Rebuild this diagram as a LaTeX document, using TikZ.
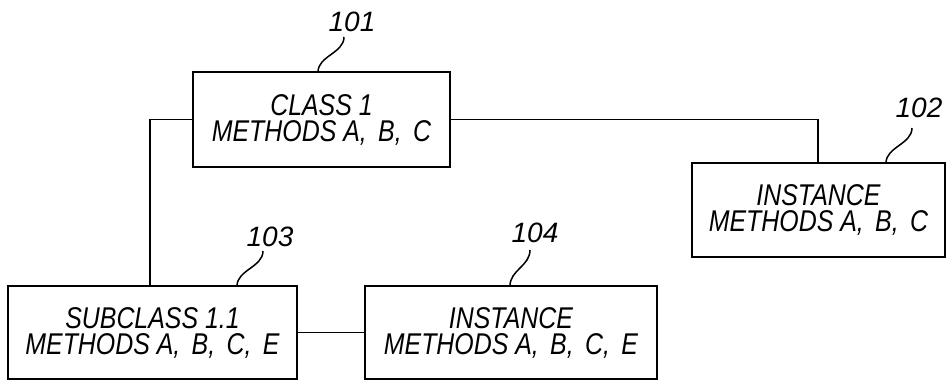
\documentclass[tikz,border=0pt]{standalone}
\usepackage{fontspec}
\newfontfamily\pfont{Liberation Sans}[FakeStretch=0.83]
\newfontfamily\nfont{Liberation Sans}
\begin{document}
\begin{tikzpicture}[x=1pt,y=-1pt,
  box/.style={draw,line width=2pt,inner sep=0pt,font=\pfont\itshape\fontsize{30}{26}\selectfont,align=center},
  lbl/.style={font=\nfont\itshape\fontsize{28}{28}\selectfont,inner sep=0pt},
  wire/.style={line width=1.4pt},
  lead/.style={line width=1.5pt}]
\useasboundingbox (0,0) rectangle (946,384);
\newcommand{\gp}{\hspace{0.38em}}
\node[box,minimum width=257pt,minimum height=95pt] (b101) at (321.5,119.5) {CLASS 1\\METHODS A,\gp B,\gp C};
\node[box,minimum width=253pt,minimum height=94pt] (b102) at (818.5,210) {INSTANCE\\METHODS A,\gp B,\gp C};
\node[box,minimum width=289pt,minimum height=93pt] (b103) at (152.5,332.5) {SUBCLASS 1.1\\METHODS A,\gp B,\gp C,\gp E};
\node[box,minimum width=292pt,minimum height=93pt] (b104) at (511,332.5) {INSTANCE\\METHODS A,\gp B,\gp C,\gp E};
\node[lbl] (l101) at (352,22) {101};
\node[lbl] (l102) at (919,108) {102};
\node[lbl] (l103) at (270,237) {103};
\node[lbl] (l104) at (535,233) {104};
\coordinate (c101) at (318,72);
\coordinate (c102) at (886,163);
\coordinate (c103) at (237,286);
\coordinate (c104) at (510,286);
\coordinate (s101) at (344,37);
\coordinate (s102) at (912,128);
\coordinate (s103) at (263,251);
\coordinate (s104) at (530,250);
\draw[lead] (s101) .. controls +(0,16) and +(0,-16) .. (c101);
\draw[lead] (s102) .. controls +(0,16) and +(0,-16) .. (c102);
\draw[lead] (s103) .. controls +(0,16) and +(0,-16) .. (c103);
\draw[lead] (s104) .. controls +(0,16) and +(0,-16) .. (c104);
\draw[wire] (b101.west) -| (b103.north -| 150,0);
\draw[wire] (b101.east) -| (b102.north -| 818,0);
\draw[wire] (b103.east) -- (b104.west);
\end{tikzpicture}
\end{document}
